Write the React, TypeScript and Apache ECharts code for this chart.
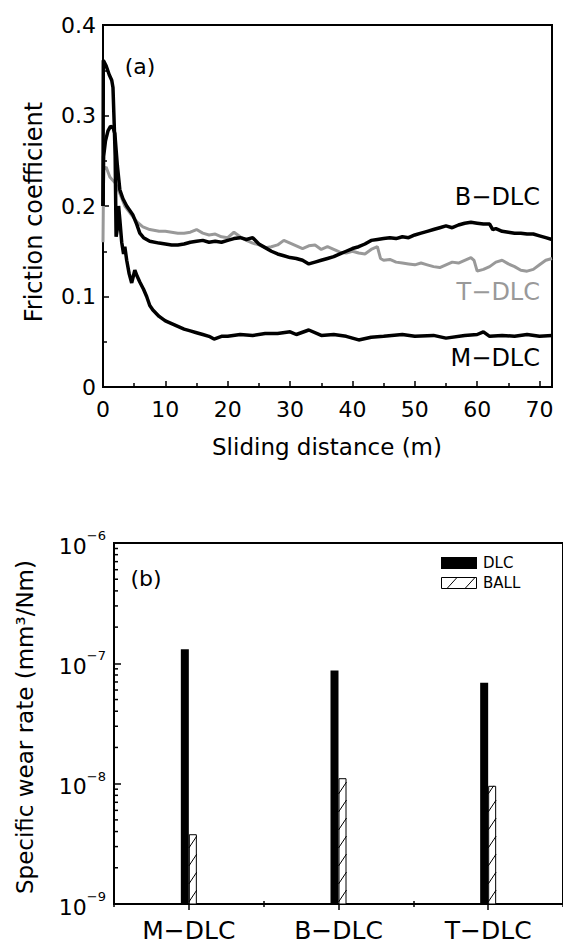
import React, { useEffect, useRef } from 'react';
import * as echarts from 'echarts';

const FONT = '"DejaVu Sans", sans-serif';

// ---- (a) friction coefficient vs sliding distance ----
const mDlcFriction: [number, number][] = [
  [0, 0.2], [0.05, 0.361], [0.5, 0.355], [1.0, 0.345], [1.4, 0.339], [1.6, 0.331], [1.8, 0.29], [1.95, 0.255],
  [2.1, 0.166], [2.3, 0.175], [2.5, 0.2], [2.7, 0.185], [3.0, 0.16], [3.3, 0.147], [3.5, 0.155], [3.8, 0.14],
  [4.2, 0.125], [4.6, 0.115], [5.1, 0.129], [5.5, 0.122], [5.9, 0.116], [6.5, 0.108], [7.0, 0.1], [7.5, 0.09],
  [8, 0.085], [9, 0.078], [10, 0.073], [11, 0.07], [12, 0.067], [13, 0.064], [14, 0.062], [15, 0.06],
  [16, 0.058], [17, 0.056], [17.8, 0.053], [19, 0.056], [20, 0.056], [22, 0.058], [24, 0.057], [26, 0.059],
  [28, 0.059], [30, 0.061], [31, 0.058], [33, 0.063], [35, 0.057], [37, 0.058], [39, 0.056], [41, 0.052],
  [43, 0.055], [45, 0.056], [48, 0.058], [50, 0.056], [53, 0.057], [55, 0.054], [58, 0.057], [60, 0.058],
  [61, 0.061], [62, 0.056], [64, 0.057], [66, 0.056], [68, 0.058], [70, 0.056], [72, 0.057]
];

const bDlcFriction: [number, number][] = [
  [0, 0.2], [0.1, 0.255], [0.4, 0.272], [0.8, 0.283], [1.2, 0.288], [1.6, 0.287], [1.9, 0.28], [2.3, 0.245],
  [2.7, 0.218], [3.2, 0.208], [3.8, 0.2], [4.8, 0.19], [5.4, 0.18], [5.9, 0.17], [6.5, 0.165], [7.5, 0.161],
  [9, 0.159], [10, 0.158], [11, 0.157], [12, 0.157], [13, 0.158], [14, 0.16], [15, 0.161], [16, 0.162],
  [17, 0.16], [18, 0.161], [19, 0.16], [20, 0.162], [21, 0.164], [22, 0.165], [23, 0.163], [24, 0.165],
  [25, 0.158], [26, 0.154], [27, 0.15], [28, 0.147], [29, 0.145], [30, 0.143], [31, 0.142], [32, 0.14],
  [33, 0.136], [34, 0.138], [35, 0.14], [36, 0.142], [37, 0.144], [38, 0.147], [39, 0.15], [40, 0.153],
  [41, 0.155], [42, 0.158], [43, 0.162], [44, 0.163], [45, 0.164], [46, 0.165], [47, 0.164], [48, 0.166],
  [49, 0.165], [50, 0.168], [51, 0.17], [52, 0.172], [53, 0.174], [54, 0.176], [55, 0.178], [56, 0.176],
  [57, 0.179], [58, 0.181], [59, 0.182], [60, 0.181], [61, 0.18], [62, 0.18], [62.5, 0.174], [63, 0.175],
  [64, 0.172], [65, 0.171], [66, 0.17], [67, 0.17], [68, 0.169], [69, 0.169], [70, 0.167], [71, 0.165],
  [72, 0.163]
];

const tDlcFriction: [number, number][] = [
  [0, 0.16], [0.1, 0.24], [0.5, 0.243], [1.1, 0.232], [2, 0.225], [2.7, 0.214], [3.5, 0.2], [4.8, 0.188],
  [5.5, 0.182], [6.4, 0.177], [7.5, 0.174], [9, 0.172], [10, 0.172], [11, 0.171], [12, 0.17], [13, 0.17],
  [14, 0.171], [15, 0.174], [16, 0.17], [17, 0.168], [18, 0.169], [19, 0.166], [20, 0.165], [21, 0.171],
  [22, 0.166], [23, 0.162], [24, 0.159], [25, 0.157], [26, 0.154], [27, 0.155], [28, 0.157], [29, 0.162],
  [30, 0.159], [31, 0.156], [32, 0.153], [33, 0.156], [34, 0.157], [35, 0.152], [36, 0.155], [37, 0.152],
  [38, 0.149], [39, 0.148], [40, 0.15], [41, 0.148], [42, 0.147], [43, 0.152], [44, 0.155], [44.5, 0.142],
  [45, 0.14], [46, 0.141], [47, 0.138], [48, 0.137], [49, 0.136], [50, 0.135], [51, 0.137], [52, 0.135],
  [53, 0.133], [54, 0.132], [55, 0.135], [56, 0.138], [57, 0.137], [58, 0.14], [59, 0.143], [59.5, 0.14],
  [60, 0.128], [61, 0.13], [62, 0.133], [63, 0.138], [64, 0.14], [65, 0.136], [66, 0.133], [67, 0.129],
  [68, 0.128], [69, 0.13], [70, 0.135], [71, 0.14], [72, 0.142]
];

// ---- (b) specific wear rate ----
const wearCategories = ['M\u2212DLC', 'B\u2212DLC', 'T\u2212DLC'];
const dlcWearRate = [1.31e-7, 8.7e-8, 6.9e-8];
const ballWearRate = [3.8e-9, 1.11e-8, 9.6e-9];
const logMinorTickValues = [
  2e-9, 3e-9, 4e-9, 5e-9, 6e-9, 7e-9, 8e-9, 9e-9,
  2e-8, 3e-8, 4e-8, 5e-8, 6e-8, 7e-8, 8e-8, 9e-8,
  2e-7, 3e-7, 4e-7, 5e-7, 6e-7, 7e-7, 8e-7, 9e-7
];

const BAR_W = 8;

export default function App() {
  const ref = useRef<HTMLDivElement>(null);

  useEffect(() => {
    if (!ref.current) return;
    const chart = echarts.init(ref.current, null, { renderer: 'svg' });

    const axisLine = { show: true, lineStyle: { color: '#000', width: 2 } };

    const option: any = {
      animation: false,
      backgroundColor: '#fff',
      textStyle: { fontFamily: FONT, color: '#000' },
      grid: [
        { left: 103, top: 25, width: 449, height: 362, show: true, borderColor: '#000', borderWidth: 2, backgroundColor: 'transparent' },
        { left: 114, top: 543, width: 453, height: 361, show: true, borderColor: '#000', borderWidth: 2, backgroundColor: 'transparent' }
      ],
      xAxis: [
        {
          gridIndex: 0, type: 'value', min: 0, max: 72, interval: 10,
          axisLine,
          axisTick: { show: true, inside: true, length: 6, lineStyle: { color: '#000', width: 1.5 } },
          minorTick: { show: true, splitNumber: 2, length: 4, lineStyle: { color: '#000', width: 1.5 } },
          axisLabel: { show: true, fontSize: 22, color: '#000', margin: 11, fontFamily: FONT, showMaxLabel: false },
          splitLine: { show: false }
        },
        {
          gridIndex: 1, type: 'category', data: wearCategories, boundaryGap: true,
          axisLine,
          axisTick: { show: true, alignWithLabel: true, inside: false, length: 6, lineStyle: { color: '#000', width: 1.5 } },
          axisLabel: { show: true, fontSize: 25, color: '#000', margin: 14, fontFamily: FONT },
          splitLine: { show: false }
        },
        {
          gridIndex: 1, type: 'category', data: wearCategories, boundaryGap: true, position: 'bottom', offset: -3,
          axisLine: { show: false },
          axisTick: { show: true, alignWithLabel: false, inside: false, length: 6, lineStyle: { color: '#000', width: 1.5 } },
          axisLabel: { show: false },
          splitLine: { show: false }
        }
      ],
      yAxis: [
        {
          gridIndex: 0, type: 'value', min: 0, max: 0.4, interval: 0.1,
          axisLine,
          axisTick: { show: true, inside: true, length: 6, lineStyle: { color: '#000', width: 1.5 } },
          minorTick: { show: true, splitNumber: 2, length: 4, lineStyle: { color: '#000', width: 1.5 } },
          axisLabel: {
            fontSize: 22, color: '#000', margin: 7, fontFamily: FONT,
            formatter: (v: number) => (v === 0 ? '0' : v.toFixed(1))
          },
          splitLine: { show: false }
        },
        {
          gridIndex: 1, type: 'log', logBase: 10, min: 1e-9, max: 1e-6, splitNumber: 3,
          axisLine,
          axisTick: { show: true, inside: true, length: 7, lineStyle: { color: '#000', width: 1.5 } },
          axisLabel: {
            margin: 8, color: '#000', fontFamily: FONT,
            formatter: (v: number) => '{b|10}{s|\u2212' + Math.round(-Math.log10(v)) + '}',
            rich: {
              b: { fontSize: 22, fontFamily: FONT, color: '#000', verticalAlign: 'bottom', lineHeight: 28 },
              s: { fontSize: 13, fontFamily: FONT, color: '#000', verticalAlign: 'top', lineHeight: 28 }
            }
          },
          splitLine: { show: false }
        }
      ],
      series: [
        {
          name: 'T-DLC', type: 'line', xAxisIndex: 0, yAxisIndex: 0, data: tDlcFriction,
          showSymbol: false, symbol: 'none', lineStyle: { color: '#999', width: 3 }, z: 2
        },
        {
          name: 'B-DLC', type: 'line', xAxisIndex: 0, yAxisIndex: 0, data: bDlcFriction,
          showSymbol: false, symbol: 'none', lineStyle: { color: '#000', width: 3.5 }, z: 3
        },
        {
          name: 'M-DLC', type: 'line', xAxisIndex: 0, yAxisIndex: 0, data: mDlcFriction,
          showSymbol: false, symbol: 'none', lineStyle: { color: '#000', width: 3.5 }, z: 3
        },
        {
          name: 'DLC', type: 'custom', xAxisIndex: 1, yAxisIndex: 1,
          data: dlcWearRate.map((v, i) => [i, v]),
          renderItem: (params: any, api: any) => {
            const cs = params.coordSys;
            const top = api.coord([api.value(0), api.value(1)]);
            const base = cs.y + cs.height;
            return {
              type: 'rect',
              shape: { x: top[0] - BAR_W, y: top[1], width: BAR_W, height: base - top[1] },
              style: { fill: '#000' }
            };
          }
        },
        {
          name: 'BALL', type: 'custom', xAxisIndex: 1, yAxisIndex: 1,
          data: ballWearRate.map((v, i) => [i, v]),
          renderItem: (params: any, api: any) => {
            const cs = params.coordSys;
            const top = api.coord([api.value(0), api.value(1)]);
            const base = cs.y + cs.height;
            const x0 = top[0];
            const yTop = top[1];
            const children: any[] = [
              {
                type: 'rect',
                shape: { x: x0 + 0.5, y: yTop + 0.5, width: BAR_W - 1, height: base - yTop - 0.5 },
                style: { fill: '#fff', stroke: '#000', lineWidth: 1 }
              }
            ];
            for (let yS = base - 2; yS > yTop + 1; yS -= 18) {
              let yE = yS - 12;
              let xE = x0 + BAR_W;
              if (yE < yTop) {
                xE = x0 + (BAR_W * (yS - yTop)) / 12;
                yE = yTop;
              }
              children.push({
                type: 'line',
                shape: { x1: x0, y1: yS, x2: xE, y2: yE },
                style: { stroke: '#000', lineWidth: 1 }
              });
            }
            return { type: 'group', children };
          }
        },
        {
          name: 'minorLogTicks', type: 'custom', xAxisIndex: 1, yAxisIndex: 1,
          data: logMinorTickValues.map((v) => [0, v]),
          silent: true, clip: false,
          renderItem: (params: any, api: any) => {
            const cs = params.coordSys;
            const y = api.coord([0, api.value(1)])[1];
            return {
              type: 'line',
              shape: { x1: cs.x, y1: y, x2: cs.x + 4, y2: y },
              style: { stroke: '#000', lineWidth: 1.5 }
            };
          }
        }
      ],
      graphic: [
        { type: 'text', x: 140, y: 66, style: { text: '(a)', fontSize: 22, fontFamily: FONT, fill: '#000', align: 'center', verticalAlign: 'middle' } },
        { type: 'text', x: 540, y: 197, style: { text: 'B\u2212DLC', fontSize: 24, fontFamily: FONT, fill: '#000', align: 'right', verticalAlign: 'middle' } },
        { type: 'text', x: 540, y: 292, style: { text: 'T\u2212DLC', fontSize: 24, fontFamily: FONT, fill: '#999', align: 'right', verticalAlign: 'middle' } },
        { type: 'text', x: 540, y: 358, style: { text: 'M\u2212DLC', fontSize: 24, fontFamily: FONT, fill: '#000', align: 'right', verticalAlign: 'middle' } },
        { type: 'text', x: 34, y: 212, rotation: Math.PI / 2, style: { text: 'Friction coefficient', fontSize: 24, fontFamily: FONT, fill: '#000', align: 'center', verticalAlign: 'middle' } },
        { type: 'text', x: 327, y: 447, style: { text: 'Sliding distance (m)', fontSize: 23, fontFamily: FONT, fill: '#000', align: 'center', verticalAlign: 'middle' } },
        { type: 'text', x: 146, y: 578, style: { text: '(b)', fontSize: 22, fontFamily: FONT, fill: '#000', align: 'center', verticalAlign: 'middle' } },
        { type: 'text', x: 25, y: 727, rotation: Math.PI / 2, style: { text: 'Specific wear rate (mm\u00B3/Nm)', fontSize: 23, fontFamily: FONT, fill: '#000', align: 'center', verticalAlign: 'middle' } },
        // legend for (b)
        { type: 'rect', shape: { x: 441, y: 557, width: 36, height: 12 }, style: { fill: '#000' } },
        { type: 'rect', shape: { x: 441.5, y: 577.5, width: 35, height: 11 }, style: { fill: '#fff', stroke: '#000', lineWidth: 1 } },
        { type: 'line', shape: { x1: 447, y1: 588.5, x2: 457, y2: 577.5 }, style: { stroke: '#000', lineWidth: 1 } },
        { type: 'line', shape: { x1: 465, y1: 588.5, x2: 475, y2: 577.5 }, style: { stroke: '#000', lineWidth: 1 } },
        { type: 'text', x: 483, y: 563, style: { text: 'DLC', fontSize: 15, fontFamily: FONT, fill: '#000', align: 'left', verticalAlign: 'middle' } },
        { type: 'text', x: 483, y: 583, style: { text: 'BALL', fontSize: 15, fontFamily: FONT, fill: '#000', align: 'left', verticalAlign: 'middle' } }
      ]
    };

    chart.setOption(option);
    return () => chart.dispose();
  }, []);

  return (
    <div style={{ position: 'absolute', left: 0, top: 0, width: 563, height: 944, overflow: 'hidden', background: '#fff' }}>
      <div ref={ref} style={{ width: 563, height: 944 }} />
    </div>
  );
}
